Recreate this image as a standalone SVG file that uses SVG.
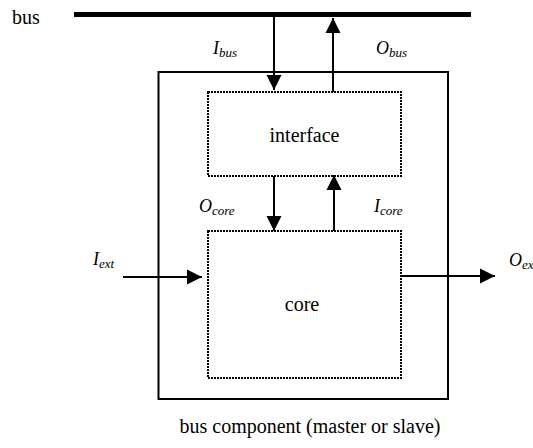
<svg xmlns="http://www.w3.org/2000/svg" width="533" height="448" viewBox="0 0 533 448">
<style>
text { font-family: "Liberation Serif", "Times New Roman", serif; fill: #000; }
.lbl { font-size: 20px; }
.it { font-style: italic; font-size: 18px; }
.sub { font-size: 13px; }
.solid { fill: none; stroke: #000; stroke-width: 2; }
.dot { fill: none; stroke: #000; stroke-width: 2; stroke-dasharray: 2 1; }
.conn { fill: none; stroke: #000; stroke-width: 2; marker-end: url(#ah); }
</style>
<defs>
<marker id="ah" markerUnits="userSpaceOnUse" markerWidth="16" markerHeight="16" viewBox="0 0 16 16" refX="15" refY="8" orient="auto">
<path d="M0,0.5 L15,8 L0,15.5 Z" fill="#000"/>
</marker>
</defs>
<rect width="533" height="448" fill="#fff"/>
<g id="bus">
<line x1="74" y1="14.5" x2="471" y2="14.5" stroke="#000" stroke-width="5"/>
<text class="lbl" x="12" y="24">bus</text>
</g>
<g id="component">
<rect class="solid" x="158.5" y="72" width="289.5" height="327"/>
<text class="lbl" x="310" y="433" text-anchor="middle">bus component (master or slave)</text>
</g>
<g id="interface">
<rect class="dot" x="208" y="92" width="193" height="84"/>
<text class="lbl" x="304.5" y="142" text-anchor="middle">interface</text>
</g>
<g id="core">
<rect class="dot" x="208" y="231" width="193" height="147"/>
<text class="lbl" x="302" y="311" text-anchor="middle">core</text>
</g>
<g id="connectors">
<line class="conn" x1="274" y1="17" x2="274" y2="90"/>
<line class="conn" x1="333" y1="92" x2="333" y2="18"/>
<line class="conn" x1="274" y1="176" x2="274" y2="231"/>
<line class="conn" x1="334" y1="231" x2="334" y2="175"/>
<line class="conn" x1="123" y1="277" x2="202" y2="277"/>
<line class="conn" x1="401" y1="276" x2="495" y2="276"/>
</g>
<g id="labels">
<text class="it" x="213" y="54">I<tspan class="sub" dy="3">bus</tspan></text>
<text class="it" x="376" y="54">O<tspan class="sub" dy="3">bus</tspan></text>
<text class="it" x="199" y="212">O<tspan class="sub" dy="3">core</tspan></text>
<text class="it" x="374" y="212">I<tspan class="sub" dy="3">core</tspan></text>
<text class="it" x="93" y="265">I<tspan class="sub" dy="3">ext</tspan></text>
<text class="it" x="509" y="266">O<tspan class="sub" dy="3">ext</tspan></text>
</g>
</svg>
